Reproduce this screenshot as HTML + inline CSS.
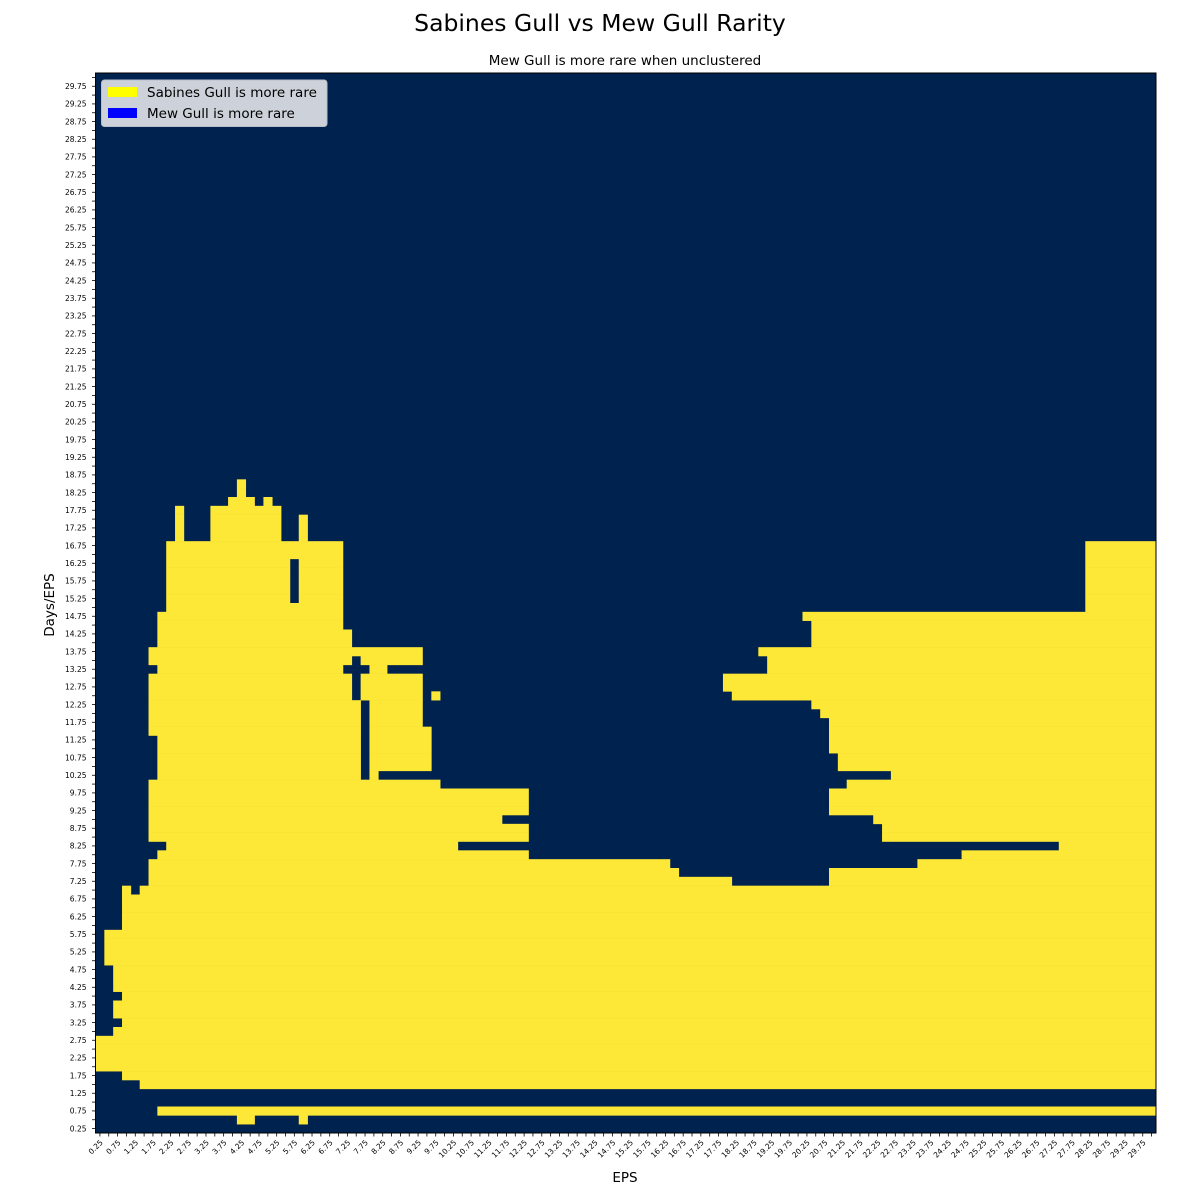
<!DOCTYPE html>
<html>
<head>
<meta charset="utf-8">
<style>
html,body{margin:0;padding:0;background:#fff;}
svg{display:block;font-family:"DejaVu Sans","Liberation Sans",sans-serif;}
</style>
</head>
<body>
<svg id="chart" width="1200" height="1200" viewBox="0 0 1200 1200" xmlns="http://www.w3.org/2000/svg">
  <rect x="0" y="0" width="1200" height="1200" fill="#ffffff"/>
  <text x="600" y="31" text-anchor="middle" font-size="23.5" fill="#000">Sabines Gull vs Mew Gull Rarity</text>
  <text x="625" y="65" text-anchor="middle" font-size="13.5" fill="#000">Mew Gull is more rare when unclustered</text>
  <g id="plot"></g>
  <g id="xticks"></g>
  <g id="yticks"></g>
  <text x="625" y="1182" text-anchor="middle" font-size="13.5" fill="#000">EPS</text>
  <text x="0" y="0" transform="translate(54,605) rotate(-90)" text-anchor="middle" font-size="13.5" fill="#000">Days/EPS</text>
  <g>
    <rect x="101.5" y="80" width="225.5" height="46.5" rx="3" fill="#cdd2da" stroke="#b8bec8" stroke-width="1"/>
    <rect x="108" y="87" width="29" height="10" fill="#ffff00"/>
    <text x="147" y="97" font-size="13.5" fill="#000">Sabines Gull is more rare</text>
    <rect x="108" y="108" width="29" height="10" fill="#0000ff"/>
    <text x="147" y="118" font-size="13.5" fill="#000">Mew Gull is more rare</text>
  </g>
</svg>
<script>
// grid size (rows = Days/EPS values, cols = EPS values), values 0.25..30 step 0.25
const nCols = 120;
const nRows = 120;
const stepValue = 0.25;
// yellow runs per row (row 0 = bottom, 0.25). Each run [startCol, endCol] inclusive = "Sabines Gull is more rare"
const yellowRuns = [];
for (let r = 0; r < nRows; r++) yellowRuns.push([]);
function setRows(a, b, runs){ for (let r = a; r <= b; r++) yellowRuns[r] = runs; }
setRows(1,1,[[16,17],[23,23]]);
setRows(2,2,[[7,119]]);
setRows(5,5,[[5,119]]);
setRows(6,6,[[3,119]]);
setRows(7,10,[[0,119]]);
setRows(11,11,[[2,119]]);
setRows(12,12,[[3,119]]);
setRows(13,14,[[2,119]]);
setRows(15,15,[[3,119]]);
setRows(16,18,[[2,119]]);
setRows(19,22,[[1,119]]);
setRows(23,26,[[3,119]]);
setRows(27,27,[[3,3],[5,119]]);
setRows(28,28,[[6,71],[83,119]]);
setRows(29,29,[[6,65],[83,119]]);
setRows(30,30,[[6,64],[93,119]]);
setRows(31,31,[[7,48],[98,119]]);
setRows(32,32,[[8,40],[109,119]]);
setRows(33,34,[[6,48],[89,119]]);
setRows(35,35,[[6,45],[88,119]]);
setRows(36,38,[[6,48],[83,119]]);
setRows(39,39,[[6,38],[85,119]]);
setRows(40,40,[[7,29],[31,31],[90,119]]);
setRows(41,42,[[7,29],[31,37],[84,119]]);
setRows(43,44,[[7,29],[31,37],[83,119]]);
setRows(45,45,[[6,29],[31,37],[83,119]]);
setRows(46,46,[[6,29],[31,36],[83,119]]);
setRows(47,47,[[6,29],[31,36],[82,119]]);
setRows(48,48,[[6,29],[31,36],[81,119]]);
setRows(49,49,[[6,28],[30,36],[38,38],[72,119]]);
setRows(50,51,[[6,28],[30,36],[71,119]]);
setRows(52,52,[[7,27],[31,32],[76,119]]);
setRows(53,53,[[6,28],[30,36],[76,119]]);
setRows(54,54,[[6,36],[75,119]]);
setRows(55,56,[[7,28],[81,119]]);
setRows(57,57,[[7,27],[81,119]]);
setRows(58,58,[[7,27],[80,119]]);
setRows(59,59,[[8,27],[112,119]]);
setRows(60,64,[[8,21],[23,27],[112,119]]);
setRows(65,66,[[8,27],[112,119]]);
setRows(67,69,[[9,9],[13,20],[23,23]]);
setRows(70,70,[[9,9],[13,20]]);
setRows(71,71,[[15,17],[19,19]]);
setRows(72,73,[[16,16]]);

const NS = "http://www.w3.org/2000/svg";
const px0 = 95.5, py0 = 73, pw = 1060.5, ph = 1060;
const cw = pw / nCols, ch = ph / nRows;
function xScale(c){ return px0 + c * cw; }
function yScale(r){ return py0 + ph - r * ch; } // bottom edge of row r
const DARK = "#00224e", YEL = "#fde737";

const plot = document.getElementById('plot');
const bg = document.createElementNS(NS,'rect');
bg.setAttribute('x', px0); bg.setAttribute('y', py0);
bg.setAttribute('width', pw); bg.setAttribute('height', ph);
bg.setAttribute('fill', DARK);


plot.appendChild(bg);

yellowRuns.forEach((runs, r) => {
  runs.forEach(run => {
    const rc = document.createElementNS(NS,'rect');
    const x1 = xScale(run[0]), x2 = xScale(run[1] + 1);
    const yTop = yScale(r + 1), yBot = yScale(r);
    rc.setAttribute('x', x1.toFixed(2));
    rc.setAttribute('y', yTop.toFixed(2));
    rc.setAttribute('width', (x2 - x1 + 0.3).toFixed(2));
    rc.setAttribute('height', (yBot - yTop + 0.3).toFixed(2));
    rc.setAttribute('fill', YEL);
    
    
    plot.appendChild(rc);
  });
});

const frame = document.createElementNS(NS,'rect');
frame.setAttribute('x', px0); frame.setAttribute('y', py0);
frame.setAttribute('width', pw); frame.setAttribute('height', ph);
frame.setAttribute('fill', 'none'); frame.setAttribute('stroke', '#000'); frame.setAttribute('stroke-width', '1');


plot.appendChild(frame);

const xg = document.getElementById('xticks');
const yg = document.getElementById('yticks');
for (let i = 0; i < nCols; i++) {
  const xc = xScale(i + 0.5);
  const t = document.createElementNS(NS,'line');
  t.setAttribute('x1', xc); t.setAttribute('x2', xc);
  t.setAttribute('y1', py0 + ph); t.setAttribute('y2', py0 + ph + 3.5);
  t.setAttribute('stroke', '#000'); t.setAttribute('stroke-width', '0.8');
  
  
  xg.appendChild(t);
  if (i % 2 === 0) {
    const lab = document.createElementNS(NS,'text');
    const v = ((i + 1) * stepValue).toFixed(2);
    lab.textContent = v;
    lab.setAttribute('transform', `translate(${(xc + 3.5).toFixed(2)},${py0 + ph + 10}) rotate(-45)`);
    lab.setAttribute('text-anchor', 'end');
    lab.setAttribute('font-size', '7.5');
    lab.setAttribute('fill', '#000');
    
    
    xg.appendChild(lab);
  }
}
for (let r = 0; r < nRows; r++) {
  const yc = yScale(r + 0.5);
  const t = document.createElementNS(NS,'line');
  t.setAttribute('x1', px0 - 3.5); t.setAttribute('x2', px0);
  t.setAttribute('y1', yc); t.setAttribute('y2', yc);
  t.setAttribute('stroke', '#000'); t.setAttribute('stroke-width', '0.8');
  
  
  yg.appendChild(t);
  if (r % 2 === 0) {
    const lab = document.createElementNS(NS,'text');
    lab.textContent = ((r + 1) * stepValue).toFixed(2);
    lab.setAttribute('x', px0 - 9);
    lab.setAttribute('y', (yc + 2.7).toFixed(2));
    lab.setAttribute('text-anchor', 'end');
    lab.setAttribute('font-size', '7.5');
    lab.setAttribute('fill', '#000');
    
    
    yg.appendChild(lab);
  }
}
</script>
</body>
</html>
